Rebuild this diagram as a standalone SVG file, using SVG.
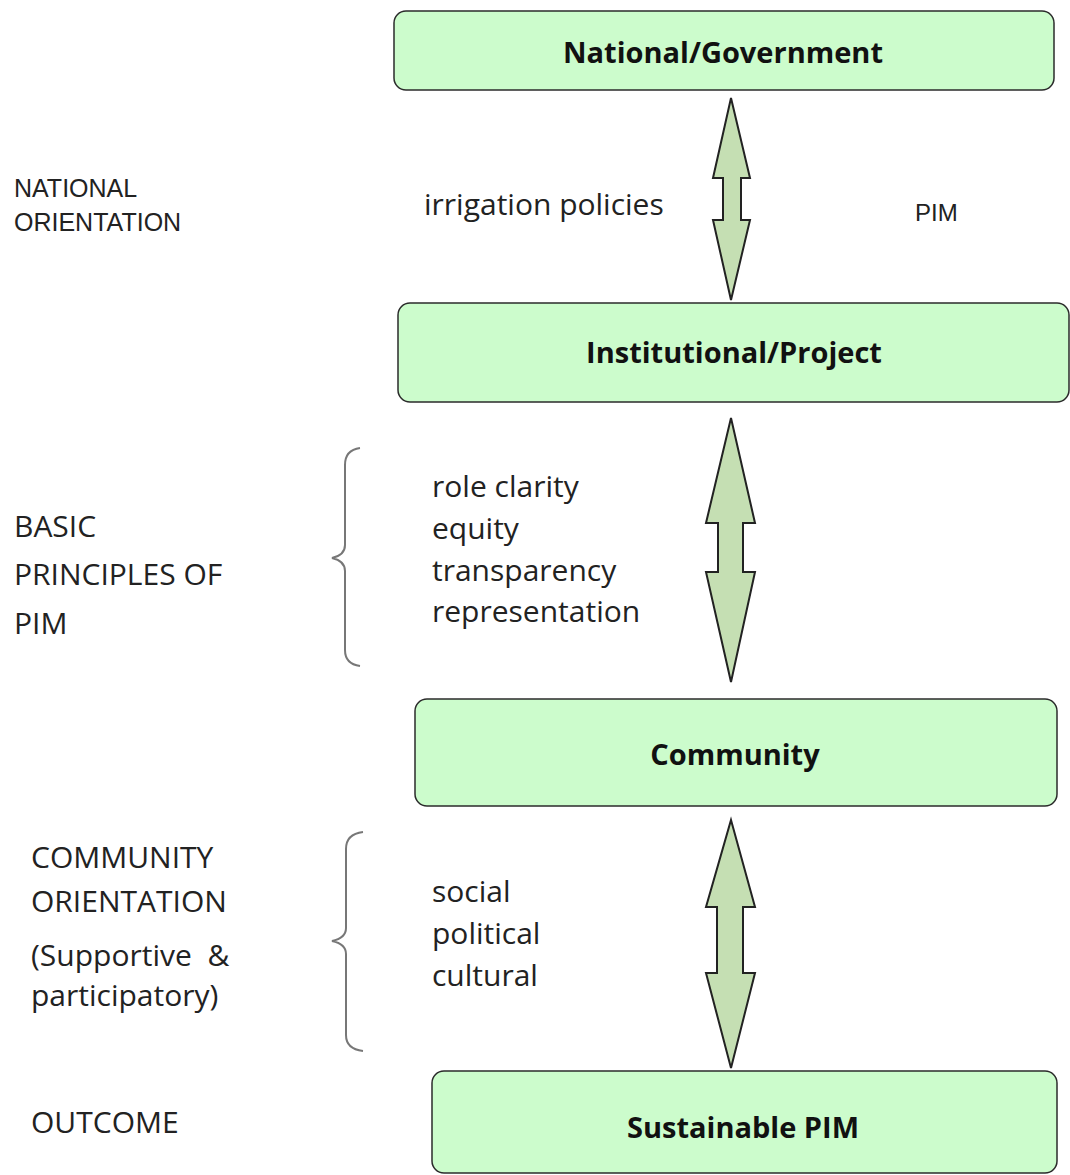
<svg xmlns="http://www.w3.org/2000/svg" width="1070" height="1175" viewBox="0 0 1070 1175">
<style>
.box{fill:#ccfccc;stroke:#2b2b2b;stroke-width:1.5}
.bt{font-family:"Open Sans","Noto Sans",sans-serif;font-weight:bold;font-size:29px;fill:#111;text-anchor:middle}
.arr{fill:#c5dfb3;stroke:#222;stroke-width:2;stroke-linejoin:miter}
.br{fill:none;stroke:#777;stroke-width:2}
.cal{font-family:"Open Sans","Noto Sans",sans-serif;font-size:30px;fill:#222}
.ar{font-family:"Liberation Sans",Arial,sans-serif;font-size:25px;fill:#222}
</style>
<rect width="1070" height="1175" fill="#fff"/>
<g id="connectors">
<path class="arr" d="M731,98 L750,178 L741,178 L741,220 L750,220 L731,300 L713,220 L723,220 L723,178 L713,178 Z"/>
<path class="arr" d="M731,418 L755,523 L743,523 L743,572 L755,572 L731,682 L706,572 L718,572 L718,523 L706,523 Z"/>
<path class="arr" d="M731,820 L755,907 L743,907 L743,973 L755,973 L731,1068 L706,973 L717,973 L717,907 L706,907 Z"/>
</g>
<g id="national">
<rect class="box" x="394" y="11" width="660" height="79" rx="12"/>
<text class="bt" x="723" y="63">National/Government</text>
</g>
<g id="institutional">
<rect class="box" x="398" y="303" width="671" height="99" rx="12"/>
<text class="bt" x="734" y="363">Institutional/Project</text>
</g>
<g id="community">
<rect class="box" x="415" y="699" width="642" height="107" rx="12"/>
<text class="bt" x="735" y="765">Community</text>
</g>
<g id="sustainable">
<rect class="box" x="432" y="1071" width="625" height="102" rx="12"/>
<text class="bt" x="743" y="1138">Sustainable PIM</text>
</g>
<g id="labels">
<text class="ar" x="14" y="197">NATIONAL</text>
<text class="ar" x="14" y="231">ORIENTATION</text>
<text class="ar" x="915" y="221" style="font-size:24px">PIM</text>
<text class="cal" x="424" y="215">irrigation policies</text>
<text class="cal" x="432" y="497">role clarity</text>
<text class="cal" x="432" y="539">equity</text>
<text class="cal" x="432" y="581">transparency</text>
<text class="cal" x="432" y="622">representation</text>
<text class="cal" x="14" y="537">BASIC</text>
<text class="cal" x="14" y="585">PRINCIPLES OF</text>
<text class="cal" x="14" y="634">PIM</text>
<text class="cal" x="432" y="902">social</text>
<text class="cal" x="432" y="944">political</text>
<text class="cal" x="432" y="986">cultural</text>
<text class="cal" x="31" y="868">COMMUNITY</text>
<text class="cal" x="31" y="912">ORIENTATION</text>
<text class="cal" x="31" y="966" xml:space="preserve">(Supportive  &amp;</text>
<text class="cal" x="31" y="1006">participatory)</text>
<text class="cal" x="31" y="1133">OUTCOME</text>
</g>
<g id="braces">
<path class="br" d="M360,448 Q345,450 345,465 L345,545 Q345,555 332,558 Q345,561 345,571 L345,650 Q345,664 360,666"/>
<path class="br" d="M363,832 Q346,834 346,849 L346,928 Q346,938 332,941 Q346,944 346,954 L346,1035 Q346,1049 363,1051"/>
</g>
</svg>
